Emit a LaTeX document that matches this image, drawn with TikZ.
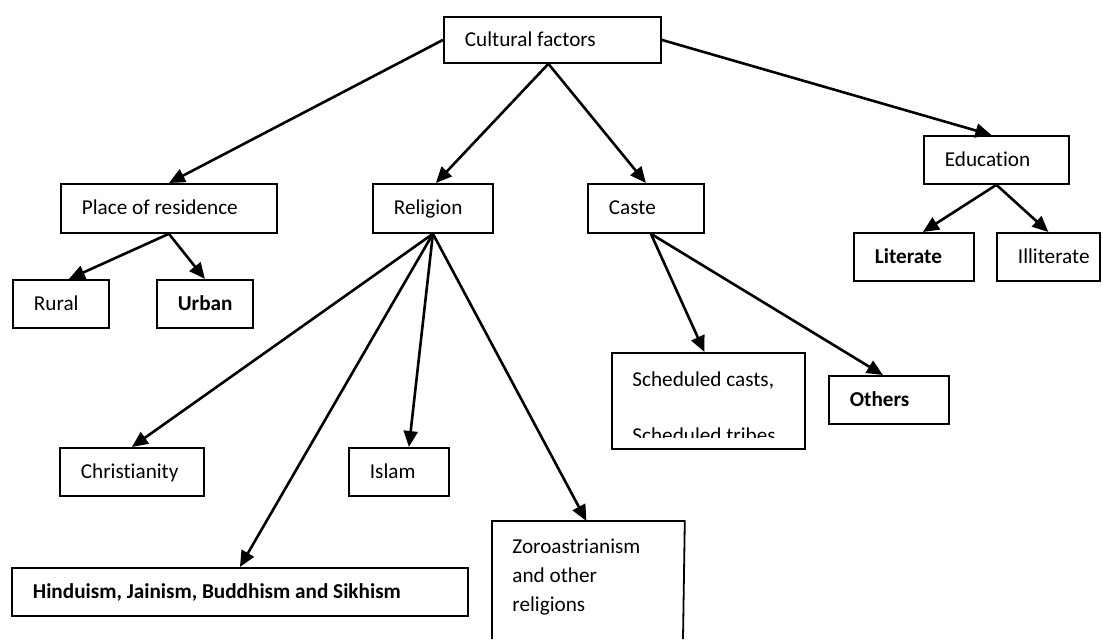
\documentclass[tikz,border=0pt]{standalone}
\usepackage{fontspec}
\setmainfont{Carlito}[Ligatures=NoCommon]
\usetikzlibrary{arrows.meta}
\hfuzz=100pt
\hbadness=10000
\newcommand\natsp{\spaceskip=0pt\xspaceskip=0pt\relax}
\newcommand\mkbox[7]{%
  \pgfmathsetmacro\mkboxw{(#4-#2)*0.5}%
  \pgfmathsetmacro\mkboxh{(#5-#3)*0.5}%
  \pgfmathsetmacro\mkboxt{(#4-#2-42)*0.5}%
  \node[box,anchor=north west,minimum width=\mkboxw pt,minimum height=\mkboxh pt,text width=\mkboxt pt,#6] (#1) at (#2,#3) {\natsp #7};}
\begin{document}
\begin{tikzpicture}[x=0.5pt,y=-0.5pt,
  box/.style={draw, line width=0.9pt, inner xsep=10.5pt, inner ysep=0pt, align=left,
    font=\fontsize{10.6}{13}\selectfont, text height=0.64em, text depth=0pt},
  boldtext/.style={font=\fontsize{10.6}{13}\selectfont\bfseries},
  arr/.style={line width=1.3pt, -{Triangle[length=8pt,width=7pt]}},
  freetext/.style={anchor=north west, inner sep=0pt, align=left}]
\useasboundingbox (0,0) rectangle (1103,639);

\mkbox{cf}{443}{16}{660}{62}{}{Cultural factors}
\mkbox{por}{60}{183}{276}{232}{}{Place of residence}
\mkbox{rel}{372}{183}{492}{232}{}{Religion}
\mkbox{cas}{587}{183}{703}{232}{}{Caste}
\mkbox{edu}{923}{135}{1068}{183}{}{Education}
\mkbox{rur}{12}{279}{108}{327}{}{Rural}
\mkbox{urb}{156}{279}{252}{327}{boldtext}{Urban}
\mkbox{lit}{853}{232}{973}{280}{boldtext}{Literate}
\mkbox{ill}{996}{232}{1099}{280}{}{Illiterate}
\mkbox{chr}{59}{447}{203}{495}{}{Christianity}
\mkbox{isl}{348}{447}{448}{495}{}{Islam}
\mkbox{hin}{11}{567}{467}{615}{boldtext}{Hinduism, Jainism, Buddhism and Sikhism}
\mkbox{oth}{828}{375}{948}{423}{boldtext}{Others}
\mkbox{sch}{611}{352}{804}{448}{}{}
\mkbox{zor}{492}{521}{683}{660}{draw=none}{}

% open box running past the bottom edge
\draw[line width=0.9pt] (492,639) -- (zor.north west) -- (zor.north east) -- (683,639);
\node[freetext, font=\fontsize{10.6}{14.5}\selectfont] (zortxt) at (512,539)
  {\natsp Zoroastrianism\\and other\\religions};

% clipped two-line text
\begin{scope}
\clip (sch.north west) rectangle ([yshift=6pt]sch.south east);
\node[freetext, font=\fontsize{10.6}{28}\selectfont] (schtxt) at (632,371)
  {\natsp Scheduled casts,\\Scheduled tribes.};
\end{scope}

% connectors
\draw[arr] (cf.west) -- (por.north);
\draw[arr] ([xshift=-2pt]cf.south) -- ([xshift=1.5pt]rel.north);
\draw[arr] ([xshift=-2pt]cf.south) -- (cas.north);
\draw[arr] (cf.east) -- ([xshift=-2.5pt]edu.north);
\draw[arr] (por.south) -- ([xshift=4pt]rur.north);
\draw[arr] (por.south) -- (urb.north);
\draw[arr] (rel.south) -- (chr.north);
\draw[arr] (rel.south) -- (hin.north);
\draw[arr] (rel.south) -- ([xshift=5pt]isl.north);
\draw[arr] (rel.south) -- ([xshift=-1pt]zor.north);
\draw[arr] ([xshift=2.5pt]cas.south) -- ([xshift=-2pt]sch.north);
\draw[arr] ([xshift=2.5pt]cas.south) -- ([xshift=-3pt]oth.north);
\draw[arr] (edu.south) -- ([xshift=4.5pt]lit.north);
\draw[arr] (edu.south) -- (ill.north);
\end{tikzpicture}
\end{document}
